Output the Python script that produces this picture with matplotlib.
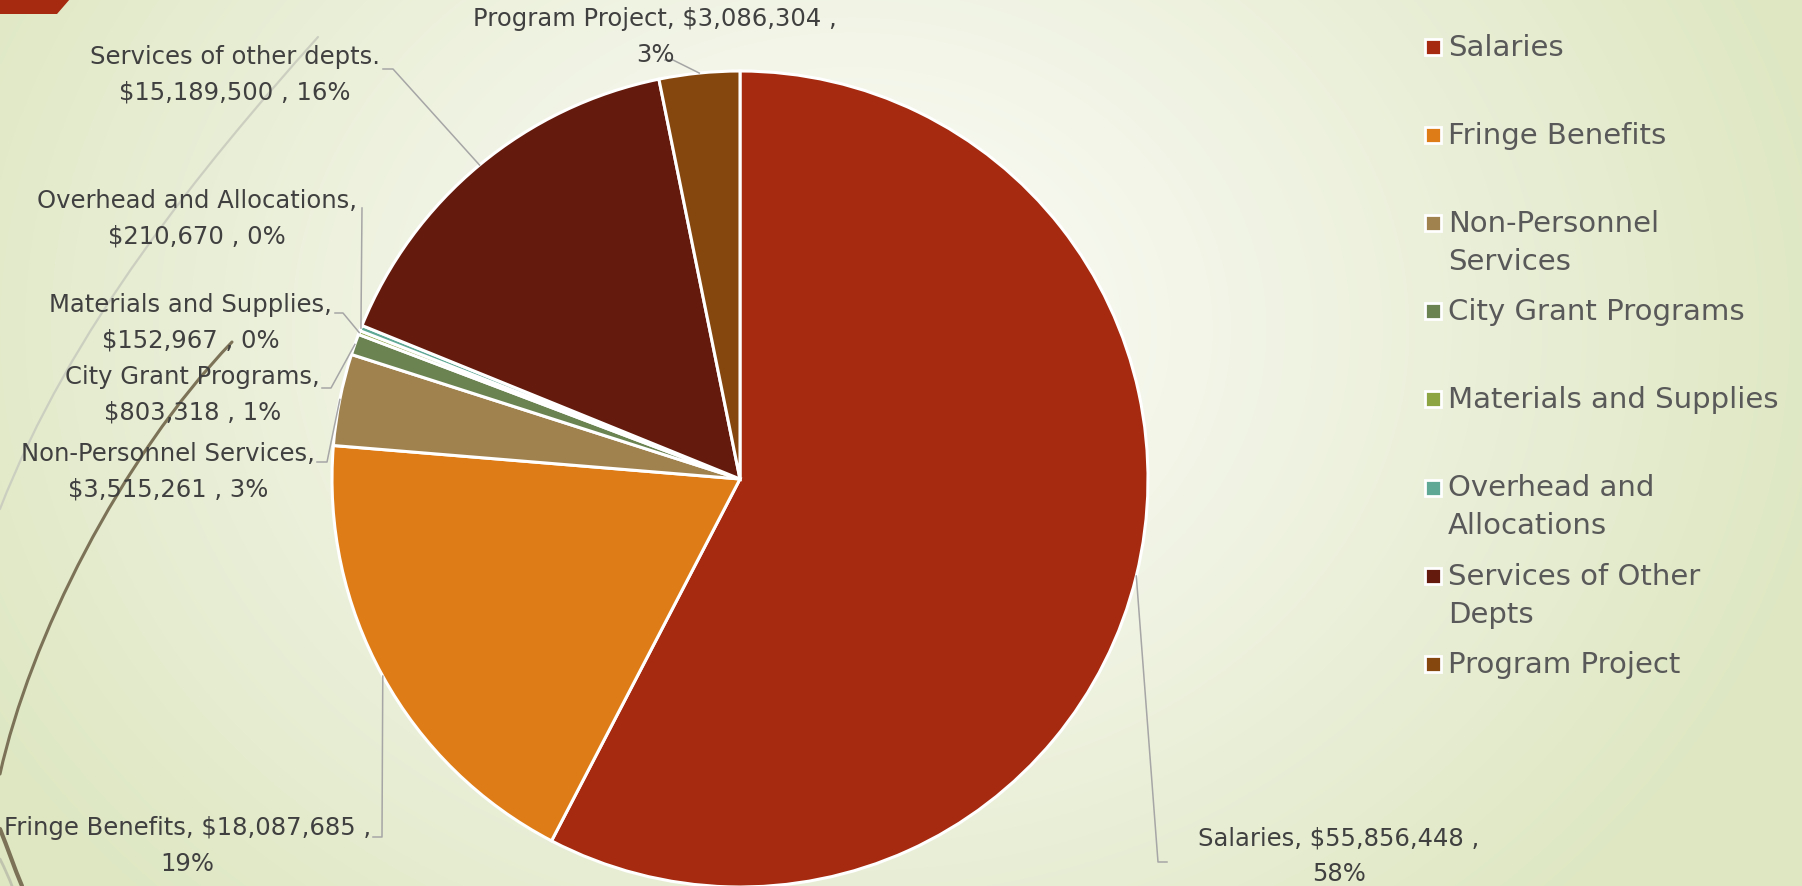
import numpy as np
import matplotlib
matplotlib.use("Agg")
import matplotlib.pyplot as plt
from matplotlib.patches import Rectangle, Polygon
from matplotlib.path import Path
from matplotlib.patches import PathPatch

# ---------------- data ----------------
categories = ["Salaries", "Fringe Benefits", "Non-Personnel Services", "City Grant Programs",
              "Materials and Supplies", "Overhead and Allocations", "Services of Other Depts",
              "Program Project"]
values = [55856448, 18087685, 3515261, 803318, 152967, 210670, 15189500, 3086304]
label_names = ["Salaries", "Fringe Benefits", "Non-Personnel Services", "City Grant Programs",
               "Materials and Supplies", "Overhead and Allocations", "Services of other depts.",
               "Program Project"]
pct_labels = ["58%", "19%", "3%", "1%", "0%", "0%", "16%", "3%"]
legend_labels = ["Salaries", "Fringe Benefits", "Non-Personnel\nServices", "City Grant Programs",
                 "Materials and Supplies", "Overhead and\nAllocations", "Services of Other\nDepts",
                 "Program Project"]
colors = ["#A52A0F", "#DE7D17", "#A0824F", "#6B8350", "#8EA544", "#5FA896", "#641A0C", "#85470E"]

# label layout: (style, text x px, text center y px, ha, leader elbow points in px)
# style 'a': "Name, $v ,\npct"   style 'b': "Name,\n$v , pct"
label_layout = [
    ("a", 1198, 856, "left",  [(1158, 863), (1167, 863)]),
    ("a", 371, 846, "right",  [(382, 838), (373, 838)]),
    ("b", 315, 472, "right",  [(327, 463), (317, 463)]),
    ("b", 320, 395, "right",  [(331, 389), (322, 389)]),
    ("b", 332, 323, "right",  [(343, 314), (335, 314)]),
    ("b", 357, 219, "right",  [(362, 209)]),
    ("b", 380, 75, "right",   [(393, 70), (383, 70)]),
    ("a", 655, 37, "center",  [(673, 61), (665, 61)]),
]

W, H = 1802, 887
CX, CY, R = 740, 480, 408

fig = plt.figure(figsize=(W / 100, H / 100), dpi=100)

# ---------------- background ----------------
bg = fig.add_axes([0, 0, 1, 1], zorder=-10)
bg.set_xlim(0, W)
bg.set_ylim(H, 0)
bg.axis("off")
yy, xx = np.mgrid[0:H, 0:W]
d = np.sqrt(((xx - 850) / 1000.0) ** 2 + ((yy - 330) / 820.0) ** 2)
t = np.clip(d, 0, 1) ** 1.1
c0 = np.array([252, 252, 249]) / 255.0
c1 = np.array([222, 231, 194]) / 255.0
img = c0[None, None, :] * (1 - t[..., None]) + c1[None, None, :] * t[..., None]
bg.imshow(img, extent=[0, W, H, 0], aspect="auto", interpolation="bilinear")

# decorative theme shapes
bg.add_patch(Polygon([(0, 0), (70, 0), (57, 15), (0, 15)], closed=True,
                     facecolor="#A52A0F", edgecolor="none"))
def bez(p, color, lw, alpha=1.0):
    path = Path(p, [Path.MOVETO, Path.CURVE4, Path.CURVE4, Path.CURVE4])
    bg.add_patch(PathPatch(path, facecolor="none", edgecolor=color, lw=lw, alpha=alpha,
                           capstyle="round"))
bez([(318, 38), (200, 170), (70, 330), (0, 510)], "#C9CCBE", 1.6, 0.9)
bez([(232, 343), (120, 460), (30, 640), (0, 775)], "#7B7257", 2.2)
bez([(0, 830), (8, 850), (14, 868), (22, 887)], "#7B7257", 3.0)
bez([(0, 860), (5, 870), (9, 879), (12, 887)], "#B9BBA8", 2.0, 0.8)

# ---------------- pie ----------------
ax = fig.add_axes([(CX - R) / W, (H - CY - R) / H, 2 * R / W, 2 * R / H])
wedges, _ = ax.pie(values, colors=colors, startangle=90, counterclock=False, radius=1,
                   wedgeprops=dict(edgecolor="white", linewidth=2.2), frame=False)
ax.set_xlim(-1, 1)
ax.set_ylim(-1, 1)
ax.set_aspect("auto")
ax.axis("off")

def px(x, y):
    return ((x - CX) / R, (CY - y) / R)

for i, w in enumerate(wedges):
    style, tx, ty, ha, elbows = label_layout[i]
    name = label_names[i]
    sep = "" if name.endswith(".") else ","
    if style == "a":
        txt = f"{name}{sep} ${values[i]:,} ,\n{pct_labels[i]}"
    else:
        txt = f"{name}{sep}\n${values[i]:,} , {pct_labels[i]}"
    mid = np.deg2rad((w.theta1 + w.theta2) / 2.0)
    pts = [(np.cos(mid), np.sin(mid))] + [px(*e) for e in elbows]
    xs, ys = zip(*pts)
    ax.plot(xs, ys, color="#A6A6A6", lw=1.1, clip_on=False, zorder=3)
    x0, y0 = px(tx, ty)
    ax.text(x0, y0, txt, ha=ha, va="center", multialignment="center", fontsize=17.5,
            color="#404040", linespacing=1.6, clip_on=False,
            family="DejaVu Sans")

# ---------------- legend ----------------
for i, lab in enumerate(legend_labels):
    yc = 48 + i * 88.1
    bg.add_patch(Rectangle((1425, yc - 8), 16, 16, facecolor=colors[i], edgecolor="white",
                           lw=2.0, zorder=5))
    for j, line in enumerate(lab.split("\n")):
        bg.text(1448, yc + j * 38, line, ha="left", va="center", fontsize=21,
                color="#595959", family="DejaVu Sans")

fig.savefig("out.png", dpi=100)
